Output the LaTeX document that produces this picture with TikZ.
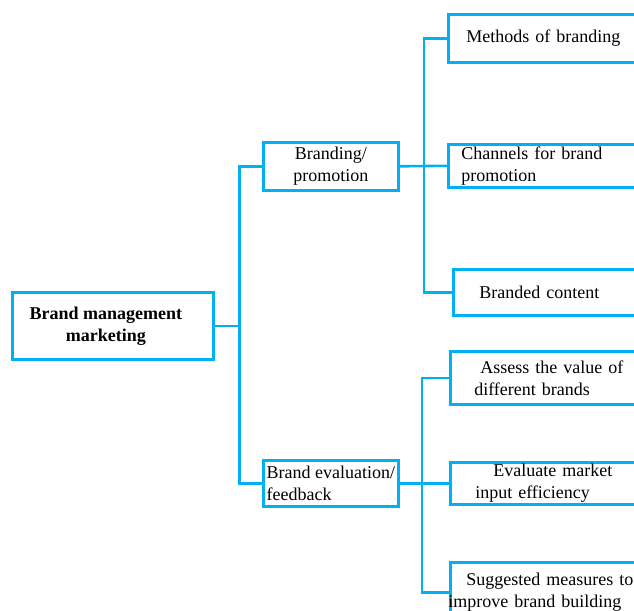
\documentclass[tikz,border=0pt]{standalone}
\usepackage{fontspec}
\setmainfont{Liberation Serif}
\usetikzlibrary{positioning}
\definecolor{linec}{HTML}{00B0F0}

\begin{document}
\begin{tikzpicture}[
    x=1pt, y=-1pt,
    every node/.style={font=\fontsize{18}{22}\selectfont},
    root/.style={draw=linec, line width=2.6pt, anchor=north west,
                 minimum width=201pt, minimum height=67pt, align=center,
                 font=\fontsize{18}{22}\selectfont\bfseries},
    group/.style={draw=linec, line width=2.6pt, anchor=north west,
                  minimum width=135pt, inner xsep=3pt, inner ysep=0pt},
    leaf/.style={draw=linec, line width=2.6pt, anchor=north west,
                 text width=200pt, align=left, inner ysep=0pt},
    conn/.style={draw=linec, line width=2.6pt}
]
    \useasboundingbox (0,0) rectangle (634,610);

    \node[root] (bm) at (11,291) {Brand management\hspace*{14pt}\\marketing\hspace*{14pt}};

    % Two group headers
    \node[group, minimum height=48pt, align=center] (bp) at (262,141) {Branding/\\promotion};
    \node[group, minimum height=46pt, align=left] (be) at (262,459) {Brand evaluation/\\feedback};

    \draw[conn] (bm.east) -- ++(25,0) coordinate (j0);
    \draw[conn] (bp.west) -| (j0);
    \draw[conn] (be.west) -| (j0);

    % Group 1: Branding/promotion (3)
    \node[leaf, minimum height=48pt, inner xsep=18pt] (mb) at (447,13) {Methods of branding};
    \node[leaf, minimum height=43pt, inner xsep=13pt] (cb) at (447,143) {Channels for brand\\promotion};
    \node[leaf, minimum height=46pt, inner xsep=26pt] (bc) at (452,268) {Branded content};

    \coordinate (j1) at (424,165);
    \draw[conn] (bp.east) -- (cb.west);
    \draw[conn] (mb.west) -| (j1);
    \draw[conn] (bc.west) -| (j1);

    % Group 2: Brand evaluation/feedback (3)
    \node[leaf, minimum height=53pt, inner xsep=24pt] (av) at (449,350) {\hspace*{6pt}Assess the value of\\different brands};
    \node[leaf, minimum height=42pt, inner xsep=25pt] (em) at (449,461) {\hspace*{18pt}Evaluate market\\input efficiency};
    \node[leaf, minimum height=60pt, inner xsep=0pt] (sm) at (449,561) {\hspace*{16pt}Suggested measures to\\\hspace*{-2pt}improve brand building};

    \coordinate (j2) at (422,482);
    \draw[conn] (be.east) -- (em.west);
    \draw[conn] (av.west) -| (j2);
    \draw[conn] (sm.west) -| (j2);
\end{tikzpicture}
\end{document}
